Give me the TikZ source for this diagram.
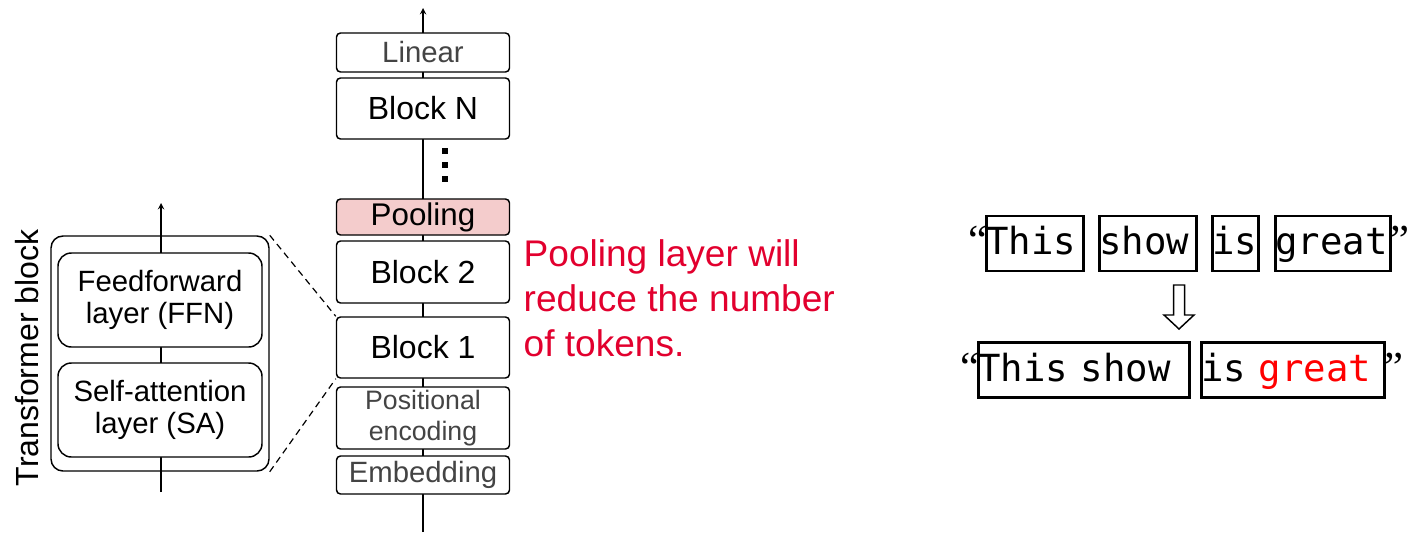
\documentclass[tikz,border=0pt]{standalone}
\usepackage{fontspec}
\setmainfont{Liberation Sans}
\newfontfamily\monofont{DejaVu Sans Mono}
\newfontfamily\quotefont{Liberation Serif}
\usepackage{tikz}
\usetikzlibrary{positioning}

\definecolor{poolpink}{RGB}{244,204,204}
\definecolor{notered}{RGB}{226,0,46}
\definecolor{labelgray}{RGB}{68,68,68}

\begin{document}
\begin{tikzpicture}[x=0.75pt,y=-0.75pt,>=stealth,line width=1.1pt,
    layer/.style={draw,fill=white,rounded corners=3pt,minimum width=129.75pt,align=center,inner sep=0pt},
    sub/.style={draw,fill=white,rounded corners=10pt,minimum width=153pt,minimum height=70.5pt,align=center,
        font={\fontsize{22}{23.5}\selectfont}},
    word/.style={draw,line width=2.2pt,inner sep=0pt,align=left,minimum height=41.25pt,
        text height=22.5pt,text depth=5.5pt,font={\monofont\fontsize{28}{30}\selectfont}},
    quote/.style={inner sep=0pt,text height=22.5pt,text depth=5.5pt,font={\quotefont\fontsize{32}{34}\selectfont}}]
    \useasboundingbox (0,0) rectangle (1409,532);

    % the model, bottom to top
    \coordinate (in) at (423,532);
    \coordinate (out) at (423,8);
    \draw[->] (in) -- (out);
    \node[layer,minimum height=28.5pt,text=labelgray,font={\fontsize{22}{24}\selectfont}] (emb) at (423,475) {Embedding};
    \node[layer,minimum height=46.5pt,text=labelgray,font={\fontsize{20}{23}\selectfont}] (pos) at (423,418) {Positional\\encoding};
    \node[layer,minimum height=45.75pt,font={\fontsize{24}{26}\selectfont}] (b1) at (423,347.5) {Block 1};
    \node[layer,minimum height=46.5pt,font={\fontsize{24}{26}\selectfont}] (b2) at (423,272) {Block 2};
    \node[layer,minimum height=27pt,fill=poolpink,font={\fontsize{23.5}{26}\selectfont}] (pool) at (423,217) {Pooling};
    \foreach \y in {151,165,179}
        \fill (445,\y) +(-2.6,-2.6) rectangle +(2.6,2.6);
    \node[layer,minimum height=45.75pt,font={\fontsize{24}{26}\selectfont}] (bn) at (423,108.5) {Block N};
    \node[layer,minimum height=29.25pt,text=labelgray,font={\fontsize{22}{24}\selectfont}] (lin) at (423,52.5) {Linear};

    % one transformer block, opened up
    \coordinate (tin) at (161,492);
    \coordinate (tout) at (161,203);
    \draw[->] (tin) -- (tout);
    \node[draw,rounded corners=9pt,minimum width=163.5pt,minimum height=176.25pt] (tblock) at (160,353.5) {};
    \node[sub] (ffn) at (160,300) {Feedforward\\layer (FFN)};
    \node[sub] (sa) at (160,410) {Self-attention\\layer (SA)};
    \node[rotate=90,font={\fontsize{24}{27}\selectfont}] (tlabel) at (27,358) {Transformer block};
    \draw[dashed,line width=0.9pt,dash pattern=on 5pt off 3.5pt] (tblock.north east) -- (b1.north west);
    \draw[dashed,line width=0.9pt,dash pattern=on 5pt off 3.5pt] (tblock.south east) -- (b1.south west);

    \node[anchor=north west,inner sep=0pt,align=left,text=notered,font={\fontsize{27.8}{33.75}\selectfont}] (note) at (523,239)
        {Pooling layer will\\reduce the number\\of tokens.};

    % tokens before pooling
    \node[word,text width=72.75pt,anchor=west] (w1) at (985,243.5) {This};
    \node[word,text width=72.75pt,anchor=west] (w2) at (1098,243.5) {show};
    \node[word,text width=34.5pt,anchor=west] (w3) at (1211,243.5) {is};
    \node[word,text width=86.25pt,anchor=west] (w4) at (1274,243.5) {great};
    \node[quote,left=-2pt of w1] (lq1) {“};
    \node[quote,right=-2pt of w4] (rq1) {”};

    \draw (1173.5,285) -- (1173.5,315) -- (1164,315) -- (1179,329) -- (1194,315) -- (1184.5,315) -- (1184.5,285) -- cycle;

    % tokens after pooling
    \node[word,text width=158.25pt,anchor=west] (p1) at (977,370) {This show};
    \node[word,text width=137.25pt,anchor=west] (p2) at (1200,370) {is \textcolor{red}{great}};
    \node[quote,left=-2pt of p1] (lq2) {“};
    \node[quote,right=-2pt of p2] (rq2) {”};
\end{tikzpicture}
\end{document}
